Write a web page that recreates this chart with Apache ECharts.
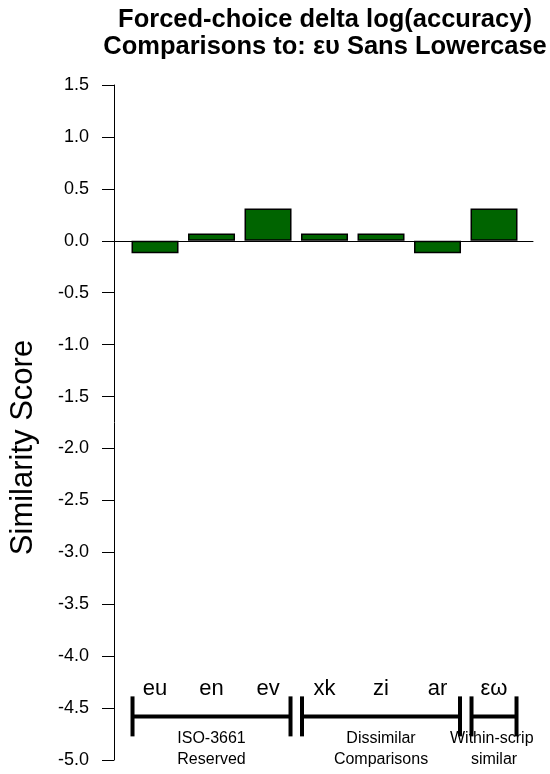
<!DOCTYPE html>
<html>
<head>
<meta charset="utf-8">
<script src="https://cdn.jsdelivr.net/npm/echarts@6/dist/echarts.min.js"></script>
<style>html,body{margin:0;padding:0;background:#fff}#chart{width:550px;height:774px}</style>
</head>
<body>
<div id="chart"></div>
<script>
// ---- data ----
var categories = ['eu', 'en', 'ev', 'xk', 'zi', 'ar', 'εω'];
var values = [-0.12, 0.07, 0.31, 0.07, 0.07, -0.12, 0.31];
var groupLabels = ['ISO-3661\nReserved', 'Dissimilar\nComparisons', 'Within-script\nsimilar'];
var groupStart = [1, 4, 7];   // first bar position (1-based)
var groupEnd = [3, 6, 7];     // last bar position
var yTicks = [-5.0, -4.5, -4.0, -3.5, -3.0, -2.5, -2.0, -1.5, -1.0, -0.5, 0.0, 0.5, 1.0, 1.5];

var FONT = '"Liberation Sans", Arial, Helvetica, sans-serif';
var barData = values.map(function (v, i) { return [i + 1, v]; });
var catData = categories.map(function (c, i) { return [i + 1, c]; });
var groupData = groupLabels.map(function (g, i) { return [groupStart[i], groupEnd[i], g]; });
var BAR_W = 47;
var LABEL_Y = -4.32;
var BRACKET_Y = -4.58;

var chart = echarts.init(document.getElementById('chart'), null, {renderer: 'canvas'});
chart.setOption({
  animation: false,
  backgroundColor: '#ffffff',
  title: {
    text: 'Forced-choice delta log(accuracy)\nComparisons to: ευ Sans Lowercase',
    left: 325, top: 6, textAlign: 'center', padding: 0,
    textStyle: {fontFamily: FONT, fontWeight: 'bold', fontSize: 25.5, lineHeight: 27, color: '#000'}
  },
  grid: {left: 114, right: 17, top: 85, bottom: 14, containLabel: false, outerBoundsMode: 'none'},
  xAxis: {
    type: 'value', min: 0.274, max: 7.69,
    axisLine: {show: true, onZero: true, lineStyle: {color: '#000', width: 1}},
    axisTick: {show: false}, axisLabel: {show: false}, splitLine: {show: false}
  },
  yAxis: {
    type: 'value', min: yTicks[0], max: yTicks[yTicks.length - 1], interval: 0.5,
    name: 'Similarity Score', nameLocation: 'middle', nameGap: 75,
    nameTextStyle: {fontFamily: FONT, fontSize: 31, color: '#000', padding: [0, 50, 0, 0]},
    axisLine: {show: true, onZero: false, lineStyle: {color: '#000', width: 1}},
    axisTick: {show: true, length: 12, lineStyle: {color: '#000', width: 1}},
    axisLabel: {fontFamily: FONT, fontSize: 18, color: '#000', margin: 25,
      formatter: function (v) { return v.toFixed(1); }},
    splitLine: {show: false}
  },
  series: [
    {
      type: 'bar', data: barData, barWidth: BAR_W,
      itemStyle: {color: '#006400', borderColor: '#000', borderWidth: 1.5}
    },
    {
      type: 'custom', data: catData, clip: false,
      renderItem: function (params, api) {
        var p = api.coord([api.value(0), LABEL_Y]);
        return {type: 'text', x: p[0], y: p[1], style: {
          text: categories[params.dataIndex], fontFamily: FONT, fontSize: 22, fill: '#000',
          align: 'center', verticalAlign: 'middle'}};
      }
    },
    {
      type: 'custom', data: groupData, clip: false, z: 5,
      renderItem: function (params, api) {
        var a = api.coord([api.value(0), BRACKET_Y]);
        var b = api.coord([api.value(1), BRACKET_Y]);
        var half = BAR_W / 2;
        var x0 = a[0] - half + 1, x1 = b[0] + half - 1, y = a[1];
        var ls = {stroke: '#000', lineWidth: 4};
        var cs = params.coordSys;
        var children = [
          {type: 'line', shape: {x1: x0, y1: y, x2: x1, y2: y}, style: ls},
          {type: 'line', shape: {x1: x0, y1: y - 20, x2: x0, y2: y + 20}, style: ls},
          {type: 'line', shape: {x1: x1, y1: y - 20, x2: x1, y2: y + 20}, style: ls},
          {type: 'text', x: (x0 + x1) / 2, y: y + 12, style: {
            text: groupLabels[params.dataIndex], fontFamily: FONT, fontSize: 16, lineHeight: 21,
            fill: '#000', align: 'center', verticalAlign: 'top'}}
        ];
        if (params.dataIndex === groupData.length - 1) {
          // text is cut at the plot region's right edge, as in the original
          children.push({type: 'rect', shape: {x: cs.x + cs.width, y: y + 12, width: 40, height: 50},
            style: {fill: '#fff'}, z2: 10});
        }
        return {type: 'group', children: children};
      }
    }
  ]
});
</script>
</body>
</html>
